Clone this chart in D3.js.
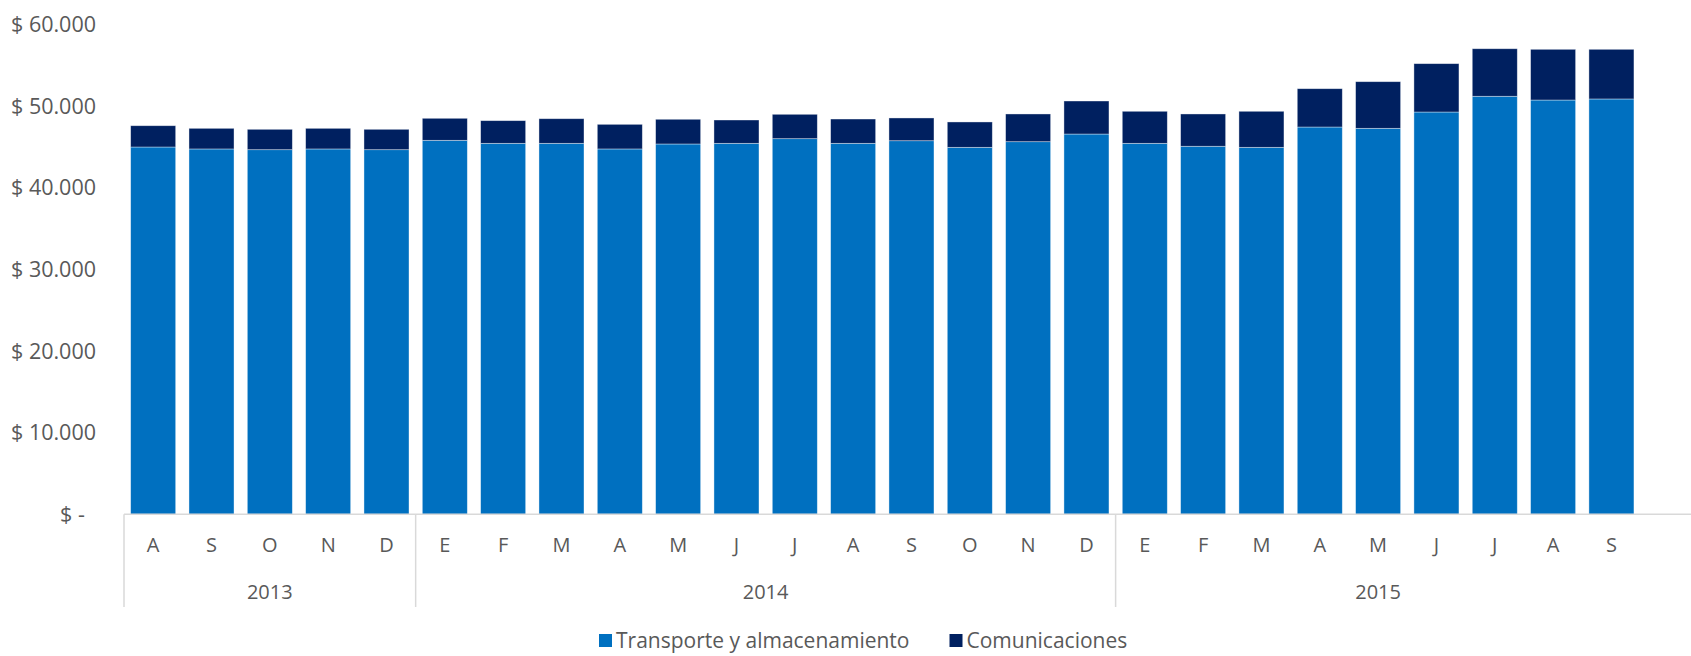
<!doctype html>
<html>
<head>
    <meta charset="UTF-8">
    <title>Transporte y comunicaciones</title>
    <style type="text/css">
        body {
            margin: 0;
            background: #ffffff;
        }
        #chart {
            font-family: "Open Sans", "Liberation Sans", sans-serif;
            font-size: 20px;
        }
        .lbl {
            fill: #595959;
        }
        .grid-line {
            stroke: #d9d9d9;
            stroke-width: 1.5;
        }
    </style>
    <script src="https://cdn.jsdelivr.net/npm/d3@7"></script>
</head>
<body>
<svg id="chart" width="1691" height="656"></svg>
<script type="text/javascript">
    // meses (abreviados) y años
    var meses = ["A", "S", "O", "N", "D",
        "E", "F", "M", "A", "M", "J", "J", "A", "S", "O", "N", "D",
        "E", "F", "M", "A", "M", "J", "J", "A", "S"];
    var anios = ["2013", "2014", "2015"];
    var mesesPorAnio = [5, 12, 9];

    // valores
    var transporte = [45040, 44800, 44710, 44800, 44710,
        45860, 45490, 45490, 44800, 45410, 45490, 46060, 45490, 45810, 45000, 45690, 46630,
        45490, 45130, 45000, 47490, 47330, 49330, 51260, 50800, 50930];
    var comunicaciones = [2610, 2530, 2500, 2530, 2500,
        2700, 2780, 3020, 3020, 3030, 2860, 2990, 2980, 2790, 3110, 3400, 4050,
        3930, 3960, 4420, 4700, 5720, 5930, 5830, 6220, 6090];

    var series = ["Transporte y almacenamiento", "Comunicaciones"];
    var colores = ["#0070c0", "#002060"];
    var yTicks = [0, 10000, 20000, 30000, 40000, 50000, 60000];

    var svg = d3.select("#chart"),
        width = +svg.attr("width"),
        height = +svg.attr("height");

    var mLeft = 124, mRight = 1640.6, mTop = 25, mBottom = 514.3;

    var rows = meses.map(function(m, i) {
        return {i: i, transporte: transporte[i], comunicaciones: comunicaciones[i]};
    });
    var stack = d3.stack().keys(["transporte", "comunicaciones"])(rows);

    var x = d3.scaleBand()
        .domain(d3.range(meses.length))
        .range([mLeft, mRight])
        .paddingInner(0.228)
        .paddingOuter(0.114);

    var y = d3.scaleLinear()
        .domain([0, 60000])
        .range([mBottom, mTop]);

    var loc = d3.formatLocale({decimal: ",", thousands: ".", grouping: [3], currency: ["$", ""]});
    var fmt = loc.format(",.0f");

    // barras apiladas
    svg.append("g").selectAll("g")
        .data(stack)
        .enter()
        .append("g")
        .attr("fill", function(d, k) { return colores[k]; })
        .selectAll("rect")
        .data(function(d) { return d; })
        .enter()
        .append("rect")
        .attr("x", function(d) { return x(d.data.i); })
        .attr("width", x.bandwidth())
        .attr("y", function(d) { return y(d[1]); })
        .attr("height", function(d) { return y(d[0]) - y(d[1]); })
        .attr("stroke", "#ffffff")
        .attr("stroke-opacity", 0.5)
        .attr("stroke-width", 0.75);

    // eje Y
    var yAxis = svg.append("g")
        .attr("transform", "translate(96,0)")
        .call(d3.axisLeft(y).tickValues(yTicks).tickSize(0).tickPadding(0)
            .tickFormat(function(d) { return d === 0 ? "$ -\u00a0\u00a0" : "$ " + fmt(d); }));
    yAxis.select(".domain").remove();
    yAxis.selectAll("text")
        .attr("class", "lbl")
        .style("font-size", "21.5px")
        .style("font-family", "'Open Sans', sans-serif");

    // linea base
    svg.append("line")
        .attr("class", "grid-line")
        .attr("x1", mLeft)
        .attr("x2", width)
        .attr("y1", y(0))
        .attr("y2", y(0));

    // meses
    var xAxis = svg.append("g")
        .attr("transform", "translate(0," + y(0) + ")")
        .call(d3.axisBottom(x).tickSize(0).tickPadding(24)
            .tickFormat(function(i) { return meses[i]; }));
    xAxis.select(".domain").remove();
    xAxis.selectAll("text")
        .attr("class", "lbl")
        .style("font-size", "20px")
        .style("font-family", "'Open Sans', sans-serif");

    // grupos de años
    var inicio = 0;
    var grupos = anios.map(function(a, k) {
        var g = {anio: a, desde: inicio, hasta: inicio + mesesPorAnio[k] - 1};
        inicio += mesesPorAnio[k];
        return g;
    });
    var step = x.step();

    svg.append("g").selectAll("line")
        .data(grupos)
        .enter()
        .append("line")
        .attr("class", "grid-line")
        .attr("x1", function(d) { return x(d.desde) - step * x.paddingInner() / 2; })
        .attr("x2", function(d) { return x(d.desde) - step * x.paddingInner() / 2; })
        .attr("y1", y(0))
        .attr("y2", 607);

    svg.append("g").selectAll("text")
        .data(grupos)
        .enter()
        .append("text")
        .attr("class", "lbl")
        .attr("text-anchor", "middle")
        .attr("x", function(d) { return (x(d.desde) + x(d.hasta) + x.bandwidth()) / 2; })
        .attr("y", 599)
        .text(function(d) { return d.anio; });

    // leyenda
    var legend = svg.append("g");
    var lx = 599;
    series.forEach(function(s, k) {
        legend.append("rect")
            .attr("x", lx)
            .attr("y", 634)
            .attr("width", 13)
            .attr("height", 13)
            .attr("fill", colores[k]);
        var t = legend.append("text")
            .attr("class", "lbl")
            .attr("x", lx + 17)
            .attr("y", 648)
            .style("font-size", "21px")
            .text(s);
        lx += 17 + t.node().getComputedTextLength() + 40;
    });
</script>
</body>
</html>
